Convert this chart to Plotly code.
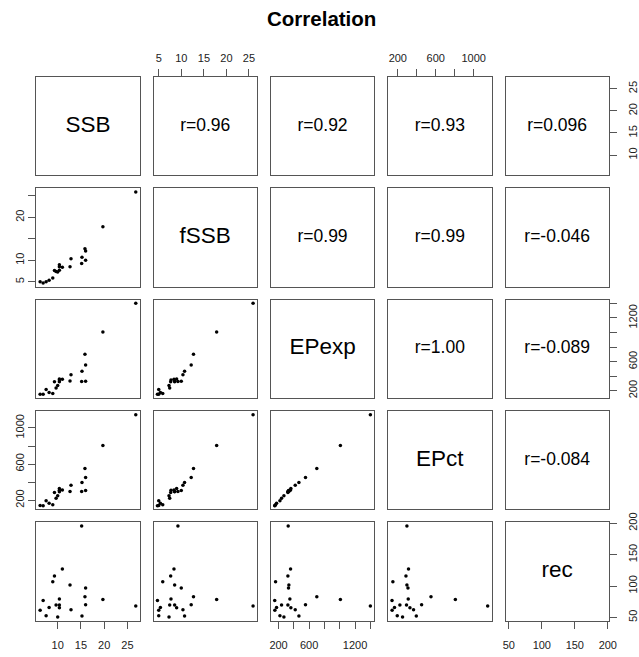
import plotly.graph_objects as go

# ---- data ----
var_names = ["SSB", "fSSB", "EPexp", "EPct", "rec"]
SSB   = [15.15, 11.0, 9.3, 8.94, 12.65, 16.0, 6.87, 10.36, 15.86, 19.72, 8.15,
         9.65, 10.36, 10.36, 16.0, 26.79, 6.22, 12.86, 7.51, 10.0, 15.22]
fSSB  = [9.24, 8.36, 7.63, 5.87, 8.51, 9.98, 4.69, 7.70, 12.69, 17.83, 5.35,
         7.41, 8.51, 8.95, 12.18, 25.91, 4.98, 10.35, 4.98, 7.26, 10.71]
EPexp = [326, 357, 322, 161, 335, 330, 150, 348, 700, 1008, 174,
         239, 322, 361, 552, 1400, 152, 418, 218, 270, 466]
EPct  = [296, 313, 286, 148, 296, 307, 139, 310, 550, 807, 165,
         222, 292, 328, 451, 1148, 140, 366, 194, 250, 395]
rec   = [195.7, 127, 115.9, 106.8, 101.6, 96.8, 77.1, 79.3, 83, 78.7, 66,
         69.8, 69.8, 65.6, 70.3, 68.2, 61.3, 62.4, 52.9, 50.8, 52.4]

# correlation labels for upper panels, keyed by (row, col)
r_labels = {(0, 1): "r=0.96", (0, 2): "r=0.92", (0, 3): "r=0.93", (0, 4): "r=0.096",
            (1, 2): "r=0.99", (1, 3): "r=0.99", (1, 4): "r=-0.046",
            (2, 3): "r=1.00", (2, 4): "r=-0.089",
            (3, 4): "r=-0.084"}

# tick values and labels per variable
tick_vals = {
    "SSB":   [10, 15, 20, 25],
    "fSSB":  [5, 10, 15, 20, 25],
    "EPexp": [200, 400, 600, 800, 1000, 1200, 1400],
    "EPct":  [200, 400, 600, 800, 1000],
    "rec":   [50, 100, 150, 200],
}
tick_text_h = {  # labels on horizontal (top/bottom) axes
    "SSB":   ["10", "15", "20", "25"],
    "fSSB":  ["5", "10", "15", "20", "25"],
    "EPexp": ["200", "", "600", "", "", "1200", ""],
    "EPct":  ["200", "", "600", "", "1000"],
    "rec":   ["50", "100", "150", "200"],
}
tick_text_v = {  # labels on vertical (left/right) axes
    "SSB":   ["10", "15", "20", "25"],
    "fSSB":  ["5", "10", "", "20", ""],
    "EPexp": ["200", "", "600", "", "", "1200", ""],
    "EPct":  ["200", "", "600", "", "1000"],
    "rec":   ["50", "100", "150", "200"],
}

data = {"SSB": SSB, "fSSB": fSSB, "EPexp": EPexp, "EPct": EPct, "rec": rec}

# ---- layout geometry ----
W, H = 639, 657
col_left = [36.3, 153.6, 270.9, 388.2, 505.5]
row_top = [77.1, 188.4, 299.7, 411.0, 522.3]
pw, ph = 103.3, 98.3

FONT = "Liberation Sans, Arial, Helvetica, sans-serif"
BOX = "#555555"


def rng(v):
    lo, hi = min(v), max(v)
    d = (hi - lo) * 0.04
    return [lo - d, hi + d]


fig = go.Figure()
layout = dict(width=W, height=H, margin=dict(l=0, r=0, t=0, b=0, pad=0),
              template="none",
              paper_bgcolor="white", plot_bgcolor="white", showlegend=False)
annotations = []

n = len(var_names)
for i in range(n):
    for j in range(n):
        k = i * n + j + 1
        xs = "" if k == 1 else str(k)
        xn, yn = var_names[j], var_names[i]
        xd = [col_left[j] / W, (col_left[j] + pw) / W]
        yd = [1 - (row_top[i] + ph) / H, 1 - row_top[i] / H]
        xr, yr = rng(data[xn]), rng(data[yn])

        xa = dict(domain=xd, anchor="y" + xs, range=xr, automargin=False,
                  showgrid=False, zeroline=False, showline=True, mirror=True,
                  linecolor=BOX, linewidth=1, ticks="", showticklabels=False,
                  tickfont=dict(family=FONT, size=11, color="#222"))
        ya = dict(domain=yd, anchor="x" + xs, range=yr, automargin=False,
                  showgrid=False, zeroline=False, showline=True, mirror=True,
                  linecolor=BOX, linewidth=1, ticks="", showticklabels=False,
                  tickfont=dict(family=FONT, size=11, color="#222"))

        # horizontal axes
        if i == n - 1 and j % 2 == 0:
            xa.update(side="bottom", ticks="outside", ticklen=7, tickcolor=BOX,
                      tickwidth=1, showticklabels=True, tickmode="array",
                      tickvals=tick_vals[xn], ticktext=tick_text_h[xn],
                      ticklabelstandoff=7)
        if i == 0 and j % 2 == 1:
            xa.update(side="top", ticks="outside", ticklen=7, tickcolor=BOX,
                      tickwidth=1, showticklabels=True, tickmode="array",
                      tickvals=tick_vals[xn], ticktext=tick_text_h[xn],
                      ticklabelstandoff=3)
        # vertical axes
        if j == 0 and i % 2 == 1:
            ya.update(side="left", ticks="outside", ticklen=7, tickcolor=BOX,
                      tickwidth=1, showticklabels=True, tickmode="array",
                      tickangle=-90,
                      tickvals=tick_vals[yn], ticktext=tick_text_v[yn],
                      ticklabelstandoff=0)
        if j == n - 1 and i % 2 == 0:
            ya.update(side="right", ticks="outside", ticklen=7, tickcolor=BOX,
                      tickwidth=1, showticklabels=True, tickmode="array",
                      tickangle=-90,
                      tickvals=tick_vals[yn], ticktext=tick_text_v[yn],
                      ticklabelstandoff=7)

        layout["xaxis" + xs] = xa
        layout["yaxis" + xs] = ya

        cx = (xr[0] + xr[1]) / 2
        cy = (yr[0] + yr[1]) / 2
        if i > j:
            fig.add_trace(go.Scatter(x=data[xn], y=data[yn], mode="markers",
                                     xaxis="x" + xs, yaxis="y" + xs,
                                     marker=dict(size=3.5, color="black"),
                                     hoverinfo="skip"))
        else:
            label = var_names[i] if i == j else r_labels[(i, j)]
            size = 22.5 if i == j else 17.5
            fig.add_trace(go.Scatter(x=[cx], y=[cy], mode="text", text=[label],
                                     textposition="middle center",
                                     textfont=dict(family=FONT, size=size,
                                                   color="black"),
                                     xaxis="x" + xs, yaxis="y" + xs,
                                     hoverinfo="skip"))

annotations.append(dict(x=321.7 / W, y=1 - 18.7 / H, xref="paper", yref="paper",
                        xanchor="center", yanchor="middle",
                        text="<b>Correlation</b>", showarrow=False,
                        font=dict(family=FONT, size=20.5, color="black")))
layout["annotations"] = annotations
fig.update_layout(**layout)
fig.write_html("out.html",
               config={"displayModeBar": False, "staticPlot": True},
               post_script="document.body.style.margin='0';"
                           "document.body.style.overflow='hidden';")
